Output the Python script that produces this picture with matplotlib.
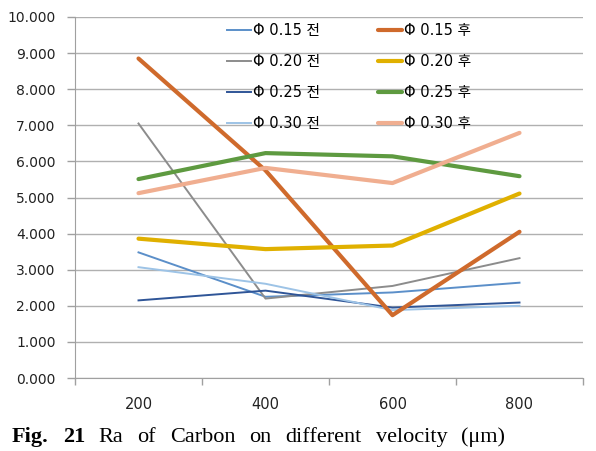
# Ra of Carbon vs velocity - recreated line chart
import numpy as np
import matplotlib.pyplot as plt

# datos
velocidad = ['200', '400', '600', '800']

phi15_antes = [3.48, 2.25, 2.37, 2.64]
phi15_despues = [8.85, 5.75, 1.74, 4.05]
phi20_antes = [7.05, 2.20, 2.55, 3.32]
phi20_despues = [3.86, 3.57, 3.67, 5.11]
phi25_antes = [2.15, 2.42, 1.95, 2.09]
phi25_despues = [5.51, 6.23, 6.14, 5.59]
phi30_antes = [3.07, 2.61, 1.88, 2.00]
phi30_despues = [5.12, 5.82, 5.40, 6.79]

etiquetas_antes = ['Φ 0.15 전', 'Φ 0.20 전', 'Φ 0.25 전', 'Φ 0.30 전']
etiquetas_despues = ['Φ 0.15 후', 'Φ 0.20 후', 'Φ 0.25 후', 'Φ 0.30 후']

colores_antes = ['#5B8FC9', '#8C8C8C', '#2F5597', '#9DC3E6']
colores_despues = ['#CF6A2C', '#E0B000', '#5E9A40', '#F0AE90']

series_antes = [phi15_antes, phi20_antes, phi25_antes, phi30_antes]
series_despues = [phi15_despues, phi20_despues, phi25_despues, phi30_despues]

plt.rcParams['font.family'] = ['DejaVu Sans', 'Noto Sans CJK KR']

fig = plt.figure(figsize=(5.96, 4.51), dpi=100)
ax = fig.add_axes([75 / 596, 1 - 378 / 451, 508 / 596, 361 / 451])

x = np.arange(len(velocidad))

# graficar lineas (primero los "antes", luego los "despues")
lineas_antes = []
for serie, color, etiqueta in zip(series_antes, colores_antes, etiquetas_antes):
    l, = ax.plot(x, serie, color=color, lw=1.4, label=etiqueta, zorder=3)
    lineas_antes.append(l)
lineas_despues = []
for serie, color, etiqueta in zip(series_despues, colores_despues, etiquetas_despues):
    l, = ax.plot(x, serie, color=color, lw=3.0, label=etiqueta, zorder=3,
                 solid_capstyle='round')
    lineas_despues.append(l)

# ejes
ax.set_xlim(-0.5, 3.5)
ax.set_ylim(0, 10)
ax.set_yticks(np.arange(0, 11, 1))
ax.set_yticklabels([f'{v:.3f}' for v in range(11)])
ax.set_xticks(x)
ax.set_xticklabels(velocidad)
ax.set_xticks(np.arange(-0.5, 4, 1), minor=True)
ax.tick_params(axis='x', which='major', length=0, pad=14, labelsize=10.5,
               labelcolor='#222222')
ax.tick_params(axis='x', which='minor', length=5, color='#A0A0A0', width=1)
ax.tick_params(axis='y', length=6, color='#A0A0A0', width=1, pad=8,
               labelsize=10, labelcolor='#222222')

ax.grid(axis='y', color='#B0B0B0', lw=1)
ax.set_axisbelow(True)
for lado in ['top', 'right']:
    ax.spines[lado].set_visible(False)
ax.spines['left'].set_color('#A0A0A0')
ax.spines['bottom'].set_color('#A0A0A0')

# leyenda de 2 columnas
ax.legend(handles=lineas_antes + lineas_despues, ncol=2, frameon=False,
          loc='upper left', bbox_to_anchor=(0.274, 1.019),
          prop={'family': ['DejaVu Sans', 'Noto Sans CJK KR'], 'size': 10.5},
          handlelength=1.65, handletextpad=0.1, columnspacing=4.0,
          labelspacing=1.1)

# pie de figura, justificado entre x=12 y x=505 px
y_base = 1 - 442 / 451
palabras = ['Fig.', '21', 'Ra', 'of', 'Carbon', 'on', 'different', 'velocity', '(μm)']
negrita = [True, True, False, False, False, False, False, False, False]
textos = []
for palabra, b in zip(palabras, negrita):
    t = fig.text(0, y_base, palabra, fontsize=16, family='Liberation Serif',
                 fontweight='bold' if b else 'normal', va='baseline')
    textos.append(t)
renderer = fig.canvas.get_renderer()
anchos = [t.get_window_extent(renderer).width for t in textos]
x0, x1 = 12, 505
hueco = (x1 - x0 - sum(anchos)) / (len(palabras) - 1)
pos = x0
for t, w in zip(textos, anchos):
    t.set_x(pos / 596)
    pos += w + hueco

fig.savefig('out.png', dpi=100)
